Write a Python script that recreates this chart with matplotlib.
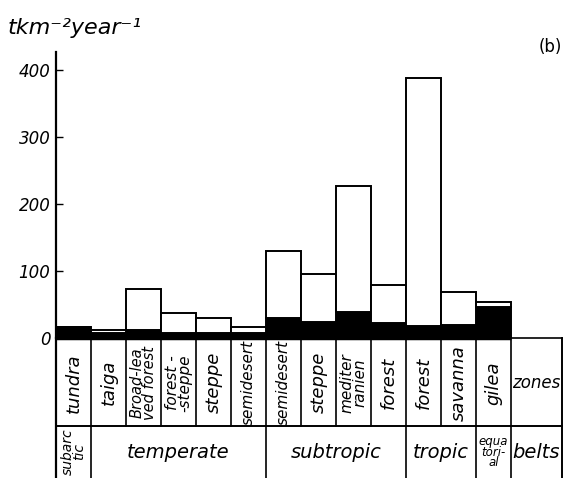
import numpy as np
import matplotlib
matplotlib.use("Agg")
import matplotlib.pyplot as plt

# Landscape zones (one bar each) and the climatic belts they belong to
zones = ["tundra", "taiga", "Broad-lea\nved forest", "forest -\n-steppe", "steppe",
         "semidesert", "semidesert", "steppe", "mediter\nranien", "forest",
         "forest", "savanna", "gilea"]
total = [16, 12, 73, 37, 30, 16, 130, 96, 227, 79, 388, 69, 54]
dark = [16, 7, 12, 7, 7, 7, 30, 24, 39, 22, 18, 19, 46]
belts = ["subarc\ntic", "temperate", "subtropic", "tropic", "equa\ntori-\nal"]
belt_spans = [1, 5, 4, 2, 1]
yticks = [0, 100, 200, 300, 400]
ytick_labels = ["0", "100", "200", "300", "400"]

W, H = 565, 478
fig = plt.figure(figsize=(W / 100, H / 100), dpi=100)

n = len(total)
extra = 1.46          # width of the right-hand caption column
xmax = n + extra
LW = 1.4

# ---- bar panel ----
ax = fig.add_axes([56 / W, 140 / H, 506 / W, 286 / H])
x = np.arange(n)
upper = np.array(total) - np.array(dark)
ax.bar(x, dark, width=1, align="edge", color="black", edgecolor="black", lw=LW)
ax.bar(x, upper, bottom=dark, width=1, align="edge", color="white",
       edgecolor="black", lw=LW)
ax.plot([0, n], [0, 0], color="black", lw=2.5, clip_on=False, solid_capstyle="butt")
ax.plot([n, xmax], [0, 0], color="black", lw=1.2, clip_on=False)

ax.set_xlim(0, xmax)
ax.set_ylim(0, 427)
for s in ("top", "right", "bottom"):
    ax.spines[s].set_visible(False)
ax.spines["left"].set_linewidth(1.6)
ax.set_xticks([])
ax.set_yticks(yticks)
ax.set_yticklabels(ytick_labels, fontstyle="italic", fontsize=12)
ax.tick_params(axis="y", direction="in", length=5, width=1, pad=4)

# ---- table of zones and belts ----
tab = fig.add_axes([56 / W, 0, 506 / W, 140 / H])
tab.set_xlim(0, xmax)
tab.set_ylim(0, 1)
tab.axis("off")
split = 52 / 140

tab.plot([0, 0], [0, 1], color="black", lw=1.6, clip_on=False)
for i in range(1, n + 1):
    tab.plot([i, i], [split, 1], color="black", lw=1.2, clip_on=False)
tab.plot([xmax, xmax], [0, 1], color="black", lw=1.4, clip_on=False)
tab.plot([0, xmax], [split, split], color="black", lw=1.4, clip_on=False)
edges = np.cumsum(belt_spans)
for e in edges:
    tab.plot([e, e], [0, split], color="black", lw=1.2, clip_on=False)

for i, z in enumerate(zones):
    if "\n" in z:
        fs = 10.5 if z.startswith("Broad") else 11
    else:
        fs = 11 if len(z) > 7 else 13
    tab.text(i + 0.5, 0.68, z, rotation=90, ha="center", va="center",
             fontstyle="italic", fontsize=fs, linespacing=0.8,
             multialignment="center")
tab.text(n + extra / 2, 0.68, "zones", ha="center", va="center",
         fontstyle="italic", fontsize=12)

starts = np.concatenate([[0], edges[:-1]])
for b, s, e in zip(belts, starts, edges):
    cx = (s + e) / 2
    if b.startswith("subarc"):
        tab.text(cx, split / 2, b, rotation=90, ha="center", va="center",
                 fontstyle="italic", fontsize=10, linespacing=0.8)
    elif b.startswith("equa"):
        tab.text(cx, split / 2, b, ha="center", va="center",
                 fontstyle="italic", fontsize=8.5, linespacing=0.8)
    else:
        tab.text(cx, split / 2, b, ha="center", va="center",
                 fontstyle="italic", fontsize=14)
tab.text(n + extra / 2, split / 2, "belts", ha="center", va="center",
         fontstyle="italic", fontsize=14)

# ---- captions ----
fig.text(8 / W, 1 - 34 / H, "tkm\u207b\u00b2year\u207b\u00b9", fontstyle="italic",
         fontsize=16, va="baseline", ha="left")
fig.text(550 / W, 1 - 47 / H, "(b)", fontsize=12, ha="center", va="center")

fig.savefig("out.png", dpi=100)
